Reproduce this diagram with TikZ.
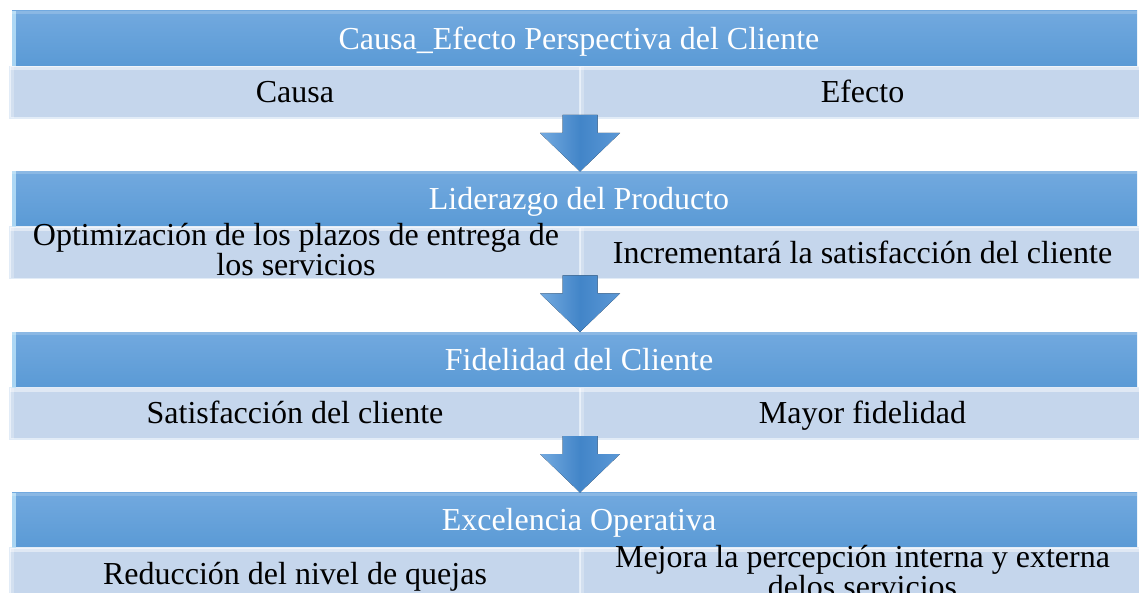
\documentclass[tikz,border=0pt]{standalone}
\usepackage{fontspec}
\setmainfont{Liberation Serif}
\usetikzlibrary{calc}
\definecolor{hdtop}{RGB}{114,169,223}
\definecolor{hdbot}{RGB}{90,154,213}
\definecolor{hdedge}{RGB}{190,228,250}
\definecolor{cellfill}{RGB}{197,214,236}
\definecolor{cellhi}{RGB}{226,236,247}
\definecolor{arlight}{RGB}{116,170,224}
\definecolor{armid}{RGB}{66,133,200}
\definecolor{ardark}{RGB}{92,152,214}
\begin{document}
\begin{tikzpicture}[x=1pt,y=-1pt,
  band/.style={rectangle,anchor=north west,inner sep=0pt,outer sep=0pt,minimum width=1125pt,minimum height=55.5pt,top color=hdtop,bottom color=hdbot},
  cellbox/.style={rectangle,anchor=north west,inner sep=0pt,outer sep=0pt,minimum height=51.5pt,fill=cellfill,draw=cellhi,line width=1.2pt},
  lcell/.style={cellbox,minimum width=570pt},
  rcell/.style={cellbox,minimum width=565pt},
  htext/.style={anchor=base,inner sep=0pt,text=white,font=\fontsize{32}{30}\selectfont},
  ctext/.style={anchor=base,inner sep=0pt,text=black,font=\fontsize{32}{30}\selectfont},
  ctwo/.style={anchor=center,inner sep=0pt,align=center,text=black,font=\fontsize{32}{30}\selectfont},
  blockarrow/.style={left color=arlight,right color=ardark,middle color=armid},
  hlight/.style={white,opacity=0.45},
  hedge/.style={fill=hdedge,opacity=0.8},
]
\useasboundingbox (0,0) rectangle (1139,593);
\clip (0,0) rectangle (1139,593);

% ---------- band 1
\node[band] (h1) at (12,11) {};
\node[lcell] (c1l) at (10,66.5) {};
\node[rcell] (c1r) at (580,66.5) {};
% ---------- band 2
\node[band] (h2) at (12,171.5) {};
\node[lcell] (c2l) at (10,227) {};
\node[rcell] (c2r) at (580,227) {};
% ---------- band 3
\node[band] (h3) at (12,332) {};
\node[lcell] (c3l) at (10,387.5) {};
\node[rcell] (c3r) at (580,387.5) {};
% ---------- band 4
\node[band] (h4) at (12,492.5) {};
\node[lcell] (c4l) at (10,548) {};
\node[rcell] (c4r) at (580,548) {};

% bevel highlights
\foreach \h in {h1,h2,h3,h4}{
  \fill[hedge] (\h.north west) rectangle ($(\h.south west)+(3.5,0)$);
  \fill[hlight,opacity=0.18] (\h.north west) rectangle ($(\h.north east)+(0,3)$);
}
\foreach \c in {c1l,c1r,c2l,c2r,c3l,c3r,c4l,c4r}{
  \fill[hlight] (\c.north west) rectangle ($(\c.north east)+(0,4)$);
  \fill[hlight,opacity=0.25] (\c.north west) rectangle ($(\c.south west)+(4,0)$);
}

% arrows
\foreach \c/\h in {c1l/h2,c2l/h3,c3l/h4}{
  \fill[blockarrow]
    ($(\c.south east)+(-17.5,-3)$) -- ($(\c.south east)+(17.5,-3)$) --
    ($(\c.south east)+(17.5,15)$) -- ($(\c.south east)+(40,15)$) --
    (\c.south east |- \h.north) --
    ($(\c.south east)+(-40,15)$) -- ($(\c.south east)+(-17.5,15)$) -- cycle;
}

% texts
\node[htext] (t1) at ($(h1.center)+(4.5,10.5)$) {Causa\_Efecto Perspectiva del Cliente};
\node[ctext] (t1l) at ($(c1l.center)+(0,10.5)$) {Causa};
\node[ctext] (t1r) at ($(c1r.center)+(0,10.5)$) {Efecto};

\node[htext] (t2) at ($(h2.center)+(4.5,10.5)$) {Liderazgo del Producto};
\node[ctwo] (t2l) at ($(c2l.center)+(1,-3)$) {Optimización de los plazos de entrega de\\los servicios};
\node[ctext] (t2r) at ($(c2r.center)+(0,10.5)$) {Incrementará la satisfacción del cliente};

\node[htext] (t3) at ($(h3.center)+(4.5,10.5)$) {Fidelidad del Cliente};
\node[ctext] (t3l) at ($(c3l.center)+(0,10.5)$) {Satisfacción del cliente};
\node[ctext] (t3r) at ($(c3r.center)+(0,10.5)$) {Mayor fidelidad};

\node[htext] (t4) at ($(h4.center)+(4.5,10.5)$) {Excelencia Operativa};
\node[ctext] (t4l) at ($(c4l.center)+(0,10.5)$) {Reducción del nivel de quejas};
\node[ctwo] (t4r) at ($(c4r.center)+(0,-2)$) {Mejora la percepción interna y externa\\delos servicios};
\end{tikzpicture}
\end{document}
